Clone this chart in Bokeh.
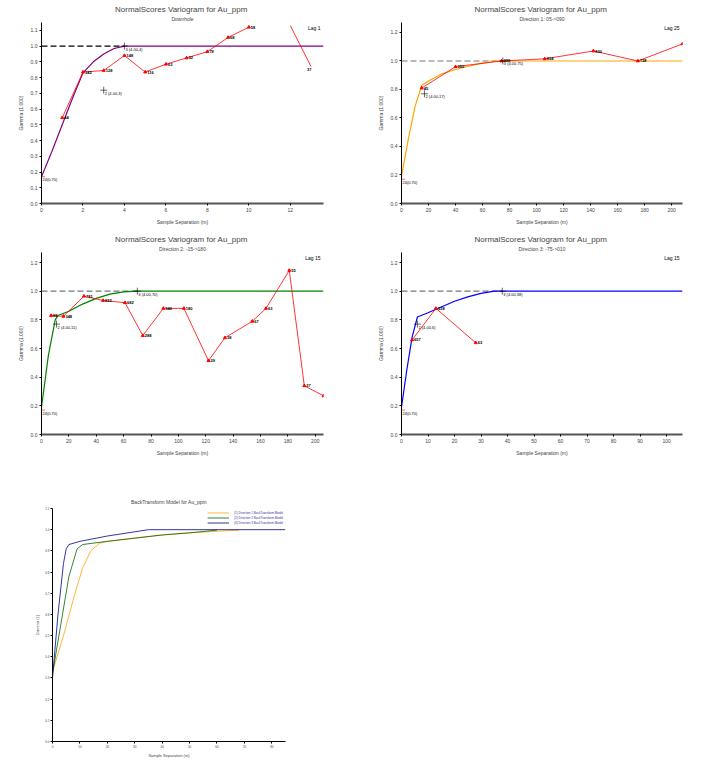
from bokeh.plotting import figure
from bokeh.layouts import column, row
from bokeh.models import Title, Range1d, FixedTicker, Legend, LegendItem, PrintfTickFormatter
from bokeh.core.properties import value
from bokeh.embed import file_html
from bokeh.resources import INLINE

FONT = "Liberation Sans"
TITLE = "NormalScores  Variogram for Au_ppm"

# --- Downhole ---
dh_x = [1, 2, 3, 4, 5, 6, 7, 8, 9, 10]
dh_g = [0.545, 0.835, 0.845, 0.94, 0.835, 0.885, 0.925, 0.965, 1.055, 1.12]
dh_n = ["44", "342", "128", "148", "116", "63", "52", "78", "68", "58"]
dh_tail_x = [12, 13]
dh_tail_g = [1.13, 0.87]
dh_tail_n = ["", "37"]
dh_mx = [0, 0.5, 1, 1.5, 2, 2.5, 3, 3.5, 4, 13.6]
dh_mg = [0.17, 0.33, 0.5, 0.67, 0.83, 0.9, 0.95, 0.985, 1.0, 1.0]
dh_cx = [0, 3, 4]
dh_cg = [0.17, 0.72, 1.0]
dh_cl = ["24(0.70)", "2 (4.00,3)", "3 (4.00,4)"]

# --- Direction 1 ---
d1_x = [15, 40, 74, 106, 142, 175, 208]
d1_g = [0.81, 0.96, 1.0, 1.015, 1.07, 1.0, 1.12]
d1_n = ["45", "350", "288", "834", "830", "728", ""]
d1_mx = [0, 5, 10, 15, 20, 30, 40, 50, 60, 70, 208]
d1_mg = [0.19, 0.45, 0.68, 0.83, 0.86, 0.91, 0.94, 0.965, 0.985, 1.0, 1.0]
d1_cx = [0, 17, 75]
d1_cg = [0.17, 0.77, 1.0]
d1_cl = ["24(0.70)", "2 (4.00,17)", "3 (4.00,75)"]

# --- Direction 2 ---
d2_x = [7, 16, 31, 45, 61, 74, 89, 104, 122, 134, 154, 164, 181, 192, 206]
d2_g = [0.83, 0.825, 0.965, 0.935, 0.92, 0.69, 0.88, 0.88, 0.515, 0.675, 0.79, 0.88, 1.145, 0.34, 0.27]
d2_n = ["88", "348", "781", "822", "682", "288", "340", "180", "29", "38", "67", "63", "55", "27", ""]
d2_mx = [0, 5, 10, 12, 20, 30, 40, 50, 60, 70, 206]
d2_mg = [0.19, 0.55, 0.8, 0.83, 0.86, 0.91, 0.95, 0.98, 0.995, 1.0, 1.0]
d2_cx = [0, 11, 70]
d2_cg = [0.17, 0.77, 1.0]
d2_cl = ["24(0.70)", "2 (4.00,11)", "3 (4.00,70)"]

# --- Direction 3 ---
d3_x = [4, 13, 28]
d3_g = [0.66, 0.88, 0.64]
d3_n = ["657", "328", "63"]
d3_mx = [0, 2, 4, 6, 10, 15, 20, 25, 30, 35, 106]
d3_mg = [0.19, 0.45, 0.68, 0.82, 0.85, 0.89, 0.93, 0.96, 0.985, 1.0, 1.0]
d3_cx = [0, 6, 38]
d3_cg = [0.17, 0.77, 1.0]
d3_cl = ["24(0.70)", "2 (4.00,6)", "3 (4.00,38)"]

# --- Back transform ---
bt_bx = [0, 2, 4, 5, 6, 10, 20, 30, 35, 85]
bt_bg = [0.30, 0.6, 0.84, 0.91, 0.93, 0.945, 0.97, 0.99, 1.0, 1.0]
bt_gx = [0, 3, 6, 9, 11, 20, 30, 40, 50, 60]
bt_gg = [0.32, 0.55, 0.78, 0.91, 0.93, 0.945, 0.96, 0.975, 0.985, 0.998]
bt_ox = [0, 4, 8, 11, 14, 17, 20, 30, 40, 50, 68]
bt_og = [0.33, 0.5, 0.69, 0.82, 0.9, 0.935, 0.945, 0.96, 0.975, 0.985, 0.998]
bt_names = ["(1) Direction 1 BackTransform Model", "(2) Direction 2 BackTransform Model",
            "(3) Direction 3 BackTransform Model"]

F = value(FONT)


def style(p, xlab, ylab):
    p.outline_line_color = None
    p.xgrid.visible = False
    p.ygrid.visible = False
    for ax in (p.xaxis, p.yaxis):
        ax.major_label_text_font_size = "5px"
        ax.major_label_text_font = FONT
        ax.axis_label_text_font_size = "5px"
        ax.axis_label_text_font = FONT
        ax.axis_label_text_font_style = "normal"
        ax.axis_label_standoff = 4
        ax.major_tick_out = 2
        ax.major_tick_in = 0
        ax.minor_tick_out = 0
        ax.major_label_standoff = 2
    p.yaxis.formatter = PrintfTickFormatter(format="%.1f")
    p.xaxis.axis_line_width = 2
    p.xaxis.axis_line_color = "#555555"
    p.xaxis.axis_label = xlab
    p.yaxis.axis_label = ylab


def vario(sub, xmax, ymax, yticks, xticks, ex, eg, en, mx, mg, col, cx, cg, cl, lag,
          dash_col, bl, br, tail=None, tail_n=None, w=346, h=230, bt=22, bb=27):
    p = figure(width=w, height=h, output_backend="svg", toolbar_location=None,
               x_range=Range1d(0, xmax), y_range=Range1d(0, ymax),
               min_border_left=bl, min_border_right=br, min_border_top=bt, min_border_bottom=bb)
    p.add_layout(Title(text=sub, text_font_size="5px", text_font=FONT, align="center",
                       text_font_style="normal", standoff=1), "above")
    p.add_layout(Title(text=TITLE, text_font_size="8px", text_font=FONT, align="center",
                       text_font_style="normal", standoff=0), "above")
    style(p, "Sample Separation (m)", "Gamma (1.000)")
    p.xaxis.ticker = FixedTicker(ticks=xticks)
    p.yaxis.ticker = FixedTicker(ticks=yticks)
    # sill dashed reference
    p.line([0, cx[-1]], [1.0, 1.0], line_color=dash_col, line_dash="6 3", line_width=1.2)
    p.line(mx, mg, line_color=col, line_width=1.2)
    p.line(ex, eg, line_color="red", line_width=0.8)
    p.scatter(ex, eg, marker="triangle", size=3, color="red")
    p.text(ex, eg, text=en, text_font_size="4px", text_font=F, x_offset=2,
           text_baseline="middle", text_font_style="bold")
    if tail is not None:
        p.line(tail[0], tail[1], line_color="red", line_width=0.8)
        p.text(tail[0], tail[1], text=tail_n, text_font_size="4px", text_font=F,
               x_offset=-4, y_offset=3, text_baseline="middle", text_font_style="bold")
    p.scatter(cx[1:], cg[1:], marker="cross", size=7, color="black", line_width=0.6)
    p.scatter(cx[:1], cg[:1], marker="cross", size=7, color="red", line_width=0.6)
    p.text(cx, cg, text=cl, text_font_size="4px", text_font=F, x_offset=1, y_offset=3,
           text_baseline="middle")
    p.text([xmax], [ymax], text=[lag], text_font_size="5px", text_font=F, x_offset=-3,
           y_offset=8, text_align="right")
    return p


yt1 = [round(0.1 * i, 1) for i in range(12)]
yt2 = [0.0, 0.2, 0.4, 0.6, 0.8, 1.0, 1.2]
p1 = vario("Downhole", 13.6, 1.15, yt1, list(range(0, 13, 2)), dh_x, dh_g, dh_n,
           dh_mx, dh_mg, "purple", dh_cx, dh_cg, dh_cl, "Lag 1", "black", 41, 23,
           tail=(dh_tail_x, dh_tail_g), tail_n=dh_tail_n)
p2 = vario("Direction 1: 05->090", 208, 1.27, yt2, list(range(0, 201, 20)), d1_x, d1_g, d1_n,
           d1_mx, d1_mg, "orange", d1_cx, d1_cg, d1_cl, "Lag 25", "#777777", 55, 10)
p3 = vario("Direction 2: -15->180", 206, 1.27, yt2, list(range(0, 201, 20)), d2_x, d2_g, d2_n,
           d2_mx, d2_mg, "green", d2_cx, d2_cg, d2_cl, "Lag 15", "#777777", 41, 23,
           h=232, bt=22, bb=28)
p4 = vario("Direction 3: -75->010", 106, 1.27, yt2, list(range(0, 101, 10)), d3_x, d3_g, d3_n,
           d3_mx, d3_mg, "blue", d3_cx, d3_cg, d3_cl, "Lag 15", "#777777", 55, 10,
           h=232, bt=22, bb=28)

p5 = figure(width=300, height=298, output_backend="svg", toolbar_location=None,
            x_range=Range1d(0, 85), y_range=Range1d(0, 1.1),
            min_border_left=52, min_border_right=15, min_border_top=46, min_border_bottom=14)
p5.add_layout(Title(text="BackTransform Model for Au_ppm", text_font_size="5px", text_font=FONT,
                    align="center", text_font_style="normal", standoff=8), "above")
style(p5, "Sample Separation (m)", "Gamma (1)")
p5.xaxis.axis_line_width = 1
p5.xaxis.axis_line_color = "black"
for ax in (p5.xaxis, p5.yaxis):
    ax.major_label_text_font_size = "3px"
    ax.axis_label_text_font_size = "4px"
    ax.axis_label_standoff = 2
    ax.major_label_standoff = 1
p5.xaxis.ticker = FixedTicker(ticks=list(range(0, 81, 10)))
p5.yaxis.ticker = FixedTicker(ticks=yt1)
r_o = p5.line(bt_ox, bt_og, line_color="orange", line_width=0.8)
r_g = p5.line(bt_gx, bt_gg, line_color="darkgreen", line_width=0.8)
r_b = p5.line(bt_bx, bt_bg, line_color="darkblue", line_width=0.8)
leg = Legend(items=[LegendItem(label=bt_names[0], renderers=[r_o]),
                    LegendItem(label=bt_names[1], renderers=[r_g]),
                    LegendItem(label=bt_names[2], renderers=[r_b])],
             location="top_right", label_text_font_size="3px", label_text_font=FONT,
             label_height=5, glyph_height=5, glyph_width=22, spacing=0, padding=1,
             border_line_color=None, background_fill_alpha=0, margin=2,
             label_text_color="#333399")
p5.add_layout(leg)

p = column(row(p1, p2), row(p3, p4), p5)
open("out.html", "w").write(file_html(p, INLINE))
